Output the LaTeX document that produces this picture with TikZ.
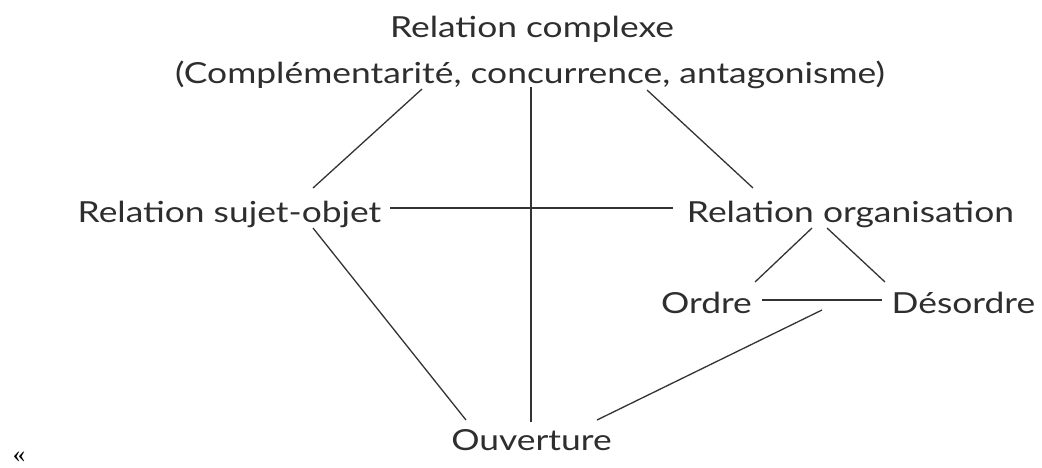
\documentclass[tikz,border=0pt]{standalone}
\usepackage{fontspec}
\setmainfont{Lato}[FakeStretch=1.22]
\newfontfamily\guilfont{Liberation Serif}
\definecolor{ink}{HTML}{2E2E2E}
\definecolor{linecol}{HTML}{333333}
\tikzset{
  lbl/.style={anchor=base, inner sep=0pt, text=ink, font=\fontsize{29}{32}\selectfont},
  conn/.style={draw=linecol, line width=1.3pt}
}
\begin{document}
\begin{tikzpicture}[x=1pt,y=-1pt]
\useasboundingbox (0,0) rectangle (1042,467);
\node[lbl] (rc1) at (532,37) {Relation complexe};
\node[lbl] (rc2) at (530,83) {(Complémentarité, concurrence, antagonisme)};
\node[lbl] (rso) at (229.5,222) {Relation sujet-objet};
\node[lbl] (ro) at (850.5,222) {Relation organisation};
\node[lbl] (ord) at (706.5,313) {Ordre};
\node[lbl] (des) at (963.5,313) {Désordre};
\node[lbl] (ouv) at (531.5,450) {Ouverture};
\node[anchor=base, inner sep=0pt, text=black, font=\guilfont\fontsize{25}{27}\selectfont] (guil) at (19,462) {«};
\coordinate (free) at (822,310);
\draw[conn] ([shift={(-108,6)}]rc2.base) -- ([shift={(83.5,-34)}]rso.base);
\draw[conn] ([shift={(117,7)}]rc2.base) -- ([shift={(-97.5,-34)}]ro.base);
\draw[conn] ([shift={(1,4)}]rc2.base) -- ([shift={(-0.5,-28)}]ouv.base);
\draw[conn] ([shift={(160.5,-14)}]rso.base) -- ([shift={(-177.5,-14)}]ro.base);
\draw[conn] ([shift={(83.5,6)}]rso.base) -- ([shift={(-65.5,-30)}]ouv.base);
\draw[conn] ([shift={(-38.5,6)}]ro.base) -- ([shift={(48.5,-31)}]ord.base);
\draw[conn] ([shift={(-23.5,6)}]ro.base) -- ([shift={(-78.5,-31)}]des.base);
\draw[conn] ([shift={(55.5,-13)}]ord.base) -- ([shift={(-81.5,-13)}]des.base);
\draw[conn] ([shift={(65.5,-30)}]ouv.base) -- (free);
\end{tikzpicture}
\end{document}
